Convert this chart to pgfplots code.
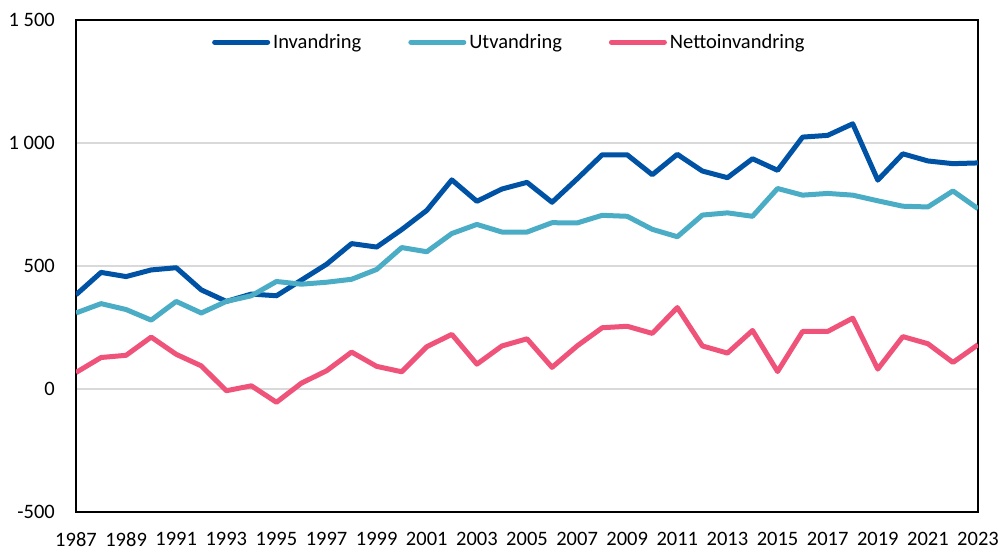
\documentclass[border=0pt]{standalone}
\usepackage{fontspec}
\setmainfont{Carlito}
\usepackage{pgfplots}
\pgfplotsset{compat=1.18}
\definecolor{inv}{RGB}{0,82,165}
\definecolor{utv}{RGB}{75,172,198}
\definecolor{net}{RGB}{240,83,122}
\begin{document}
\begin{tikzpicture}
\begin{axis}[
 scale only axis, width=902pt, height=492pt,
 xmin=1987, xmax=2023, ymin=-500, ymax=1500,
 xtick={1987,1989,...,2023},
 ytick={-500,0,500,1000,1500},
 yticklabels={-500,0,500,1 000,1 500},
 /pgf/number format/1000 sep={},
 /pgf/number format/assume math mode=true,
 tick style={draw=none},
 major tick length=0pt,
 ymajorgrids, grid style={color=black!15, line width=1.3pt},
 axis line style={line width=1.3pt},
 ticklabel style={font=\fontsize{20.5}{24}\selectfont, inner sep=0pt},
 xticklabel style={anchor=north, yshift=-20pt},
 yticklabel style={anchor=east, xshift=-21pt},
 legend style={at={(0.481,0.955)}, anchor=center, draw=none, fill=none,
   legend columns=3, font=\fontsize{20.5}{24}\selectfont,
   /tikz/every even column/.append style={column sep=44pt},
   nodes={inner sep=3pt}},
 legend image code/.code={\draw[#1, line cap=round] (0pt,0pt) -- (53pt,0pt);},
 every axis plot/.append style={line width=5pt, line join=round},
]
\addplot[color=inv] coordinates {
(1987,383)(1988,474)(1989,457)(1990,484)(1991,493)(1992,403)(1993,356)(1994,386)(1995,379)(1996,443)(1997,507)(1998,591)(1999,577)
(2000,648)(2001,726)(2002,850)(2003,763)(2004,813)(2005,840)(2006,759)(2007,854)(2008,952)(2009,952)(2010,871)(2011,954)
(2012,886)(2013,859)(2014,936)(2015,889)(2016,1024)(2017,1031)(2018,1078)(2019,849)(2020,956)(2021,927)(2022,916)(2023,919)};
\addlegendentry{Invandring}
\addplot[color=utv] coordinates {
(1987,309)(1988,347)(1989,323)(1990,280)(1991,356)(1992,309)(1993,356)(1994,379)(1995,437)(1996,426)(1997,434)(1998,446)(1999,486)
(2000,575)(2001,558)(2002,632)(2003,669)(2004,638)(2005,638)(2006,676)(2007,675)(2008,706)(2009,702)(2010,649)(2011,619)
(2012,707)(2013,716)(2014,702)(2015,815)(2016,788)(2017,795)(2018,788)(2019,765)(2020,743)(2021,740)(2022,805)(2023,733)};
\addlegendentry{Utvandring}
\addplot[color=net] coordinates {
(1987,67)(1988,128)(1989,137)(1990,211)(1991,141)(1992,94)(1993,-7)(1994,13)(1995,-54)(1996,24)(1997,74)(1998,150)(1999,92)
(2000,70)(2001,172)(2002,222)(2003,101)(2004,175)(2005,204)(2006,88)(2007,175)(2008,249)(2009,255)(2010,226)(2011,331)
(2012,175)(2013,146)(2014,238)(2015,71)(2016,234)(2017,234)(2018,288)(2019,81)(2020,213)(2021,184)(2022,108)(2023,180)};
\addlegendentry{Nettoinvandring}
\end{axis}
\path ([xshift=-76pt,yshift=-39pt]current axis.south west) rectangle ([xshift=22pt,yshift=20pt]current axis.north east);
\end{tikzpicture}
\end{document}
